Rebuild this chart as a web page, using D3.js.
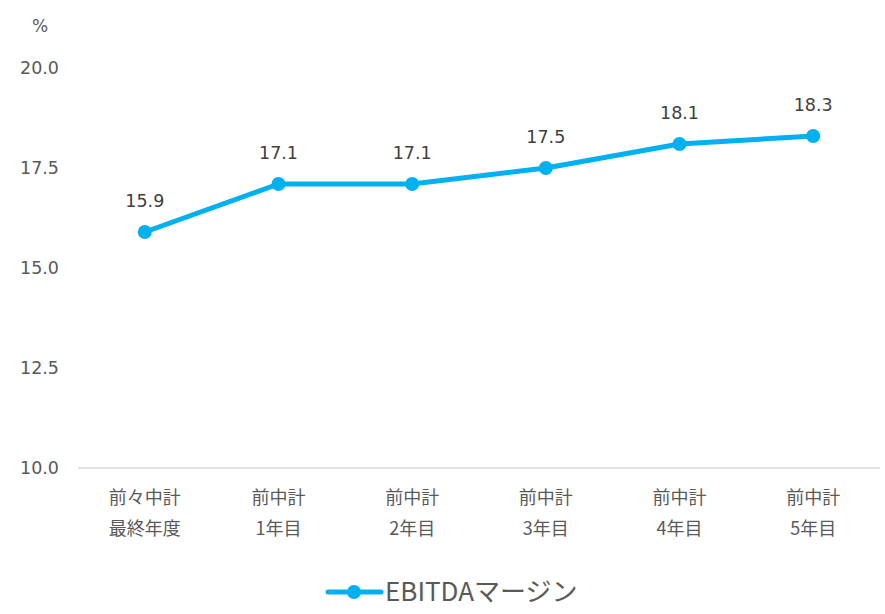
<!DOCTYPE html>
<html><head><meta charset="utf-8">
<script src="https://cdn.jsdelivr.net/npm/d3@7"></script>
<style>body{margin:0;background:#fff}</style>
</head><body>
<svg id="c" width="885" height="614"></svg>
<script>
const categories = [["前々中計","最終年度"],["前中計","1年目"],["前中計","2年目"],["前中計","3年目"],["前中計","4年目"],["前中計","5年目"]];
const values = [15.9, 17.1, 17.1, 17.5, 18.1, 18.3];
const yTicks = [10.0, 12.5, 15.0, 17.5, 20.0];
const seriesName = "EBITDAマージン";
const unitLabel = "%";

const svg = d3.select("#c");
const color = "#00b0f0", textColor = "#595959";
const numFont = "'DejaVu Sans', Verdana, sans-serif";
const jpFont = "'Noto Sans CJK JP', sans-serif";

const x = d3.scaleBand().domain(d3.range(categories.length)).range([78, 880]);
const y = d3.scaleLinear().domain([10, 20]).range([468, 68]);

// x axis line
svg.append("line").attr("x1", 78).attr("x2", 880).attr("y1", y(10)).attr("y2", y(10))
  .attr("stroke", "#d9d9d9").attr("stroke-width", 1.5);

// y tick labels
const yAxis = d3.axisLeft(y).tickValues(yTicks).tickFormat(d3.format(".1f")).tickSize(0).tickPadding(0);
const ya = svg.append("g").attr("transform", "translate(59,0)").call(yAxis);
ya.select(".domain").remove();
ya.selectAll("text").attr("font-family", numFont).attr("font-size", 17.5).attr("fill", textColor);

svg.append("text").attr("x", 40).attr("y", 32).attr("text-anchor", "middle")
  .attr("font-family", numFont).attr("font-size", 17).attr("fill", textColor).text(unitLabel);

// x labels
const xl = svg.append("g");
categories.forEach((c, i) => {
  c.forEach((t, j) => {
    xl.append("text").attr("x", x(i) + x.bandwidth() / 2).attr("y", 504 + j * 31)
      .attr("text-anchor", "middle").attr("font-family", jpFont).attr("font-size", 18)
      .attr("fill", textColor).text(t);
  });
});

const cx = i => x(i) + x.bandwidth() / 2;
const line = d3.line().x((d, i) => cx(i)).y(d => y(d));
svg.append("path").datum(values).attr("d", line).attr("fill", "none")
  .attr("stroke", color).attr("stroke-width", 5).attr("stroke-linejoin", "round");
svg.selectAll("circle.pt").data(values).join("circle").attr("class", "pt")
  .attr("cx", (d, i) => cx(i)).attr("cy", d => y(d)).attr("r", 7).attr("fill", color);
svg.selectAll("text.lbl").data(values).join("text").attr("class", "lbl")
  .attr("x", (d, i) => cx(i)).attr("y", d => y(d) - 25).attr("text-anchor", "middle")
  .attr("font-family", numFont).attr("font-size", 17.5).attr("fill", "#404040").text(d => d.toFixed(1));

// legend
const lg = svg.append("g");
lg.append("line").attr("x1", 328).attr("x2", 381).attr("y1", 592).attr("y2", 592)
  .attr("stroke", color).attr("stroke-width", 5).attr("stroke-linecap", "round");
lg.append("circle").attr("cx", 354).attr("cy", 592).attr("r", 7).attr("fill", color);
lg.append("text").attr("x", 385).attr("y", 601).attr("font-family", jpFont).attr("font-size", 26)
  .attr("fill", textColor).text(seriesName);
</script>
</body></html>
